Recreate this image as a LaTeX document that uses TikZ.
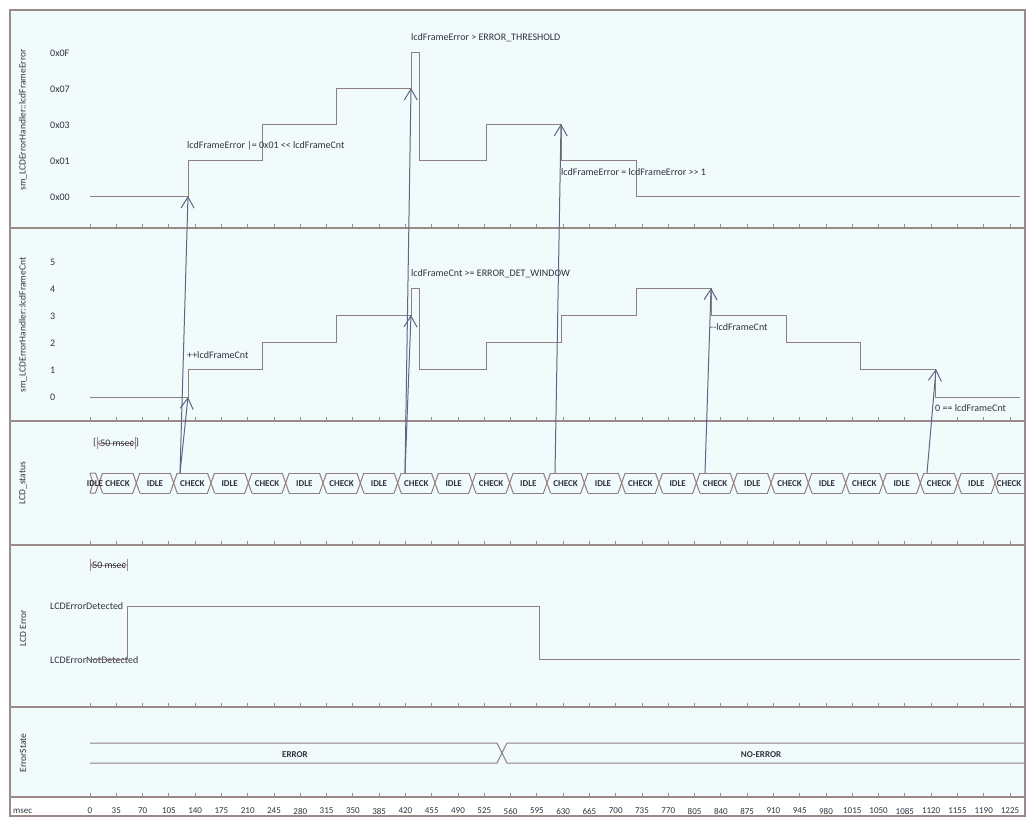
\documentclass[tikz,border=0pt]{standalone}
\usepackage{fontspec}
\setmainfont{Carlito}
\usetikzlibrary{arrows.meta}
\definecolor{paneBg}{HTML}{F2FBFC}
\definecolor{frameCol}{HTML}{9A8A8A}
\definecolor{sigCol}{HTML}{8F7F7F}
\definecolor{evtCol}{HTML}{5E6683}
\definecolor{txtCol}{HTML}{32323F}
% x position of a state boundary in the LCD_status row
\newcommand{\stX}[1]{(99+37.333*(#1))}

\begin{document}
\begin{tikzpicture}[x=1pt,y=-1pt,
  pane/.style={draw=frameCol, line width=2.4pt},
  wave/.style={draw=sigCol, line width=1pt},
  tickmark/.style={draw=frameCol, line width=1pt},
  trig/.style={draw=evtCol, line width=1pt, -{Straight Barb[length=11pt,width=13pt]}},
  durln/.style={draw=frameCol, line width=0.8pt},
  txt/.style={font=\fontsize{10}{11}\selectfont, text=txtCol, inner sep=0pt},
  axisnum/.style={txt, font=\fontsize{9}{10}\selectfont},
  lvl/.style={txt, anchor=west},
  stname/.style={txt, font=\fontsize{9}{10}\selectfont\bfseries},
  lanetitle/.style={txt, font=\fontsize{9.5}{10}\selectfont, rotate=90}]
\useasboundingbox (0,0) rectangle (1036,828);

% frame and lanes
\fill[paneBg] (10,10) rectangle (1025,797);
\fill[white] (10,797) rectangle (1025,816);
\foreach \y in {228,421,545,707,797}
  \draw[pane] (10,\y) -- (1025,\y);
\draw[pane] (10,10) rectangle (1025,816);
\foreach \y in {228,421,545,707,797}
  \foreach \k in {0,...,35}
    \draw[tickmark] ({90+26.2857*\k},{\y-4}) -- ({90+26.2857*\k},\y);

% time axis
\node[axisnum, anchor=west] (msec) at (13,811) {msec};
\foreach \k in {0,...,35}{
  \pgfmathtruncatemacro\ms{35*\k}
  \node[axisnum] (t\k) at ({90+26.2857*\k},811) {\ms};
}

% lane titles
\node[lanetitle] (ttlErr) at (23,120) {sm\_LCDErrorHandler::lcdFrameError};
\node[lanetitle] (ttlCnt) at (23,325) {sm\_LCDErrorHandler::lcdFrameCnt};
\node[lanetitle] (ttlSts) at (23,483) {LCD\_status};
\node[lanetitle] (ttlLcd) at (23,628) {LCD Error};
\node[lanetitle] (ttlEst) at (23,753) {ErrorState};

% lcdFrameError
\node[lvl] (fe0F) at (50,53) {0x0F};
\node[lvl] (fe07) at (50,89) {0x07};
\node[lvl] (fe03) at (50,125) {0x03};
\node[lvl] (fe01) at (50,161) {0x01};
\node[lvl] (fe00) at (50,197) {0x00};
\draw[wave] (90,196) -| (188,160) -| (262,124) -| (336,88) -| (411,52) -| (419,160)
  -| (486,124) -| (561,160) -| (636,196) -- (1020,196);
\node[lvl] (feSet) at (187,146) {lcdFrameError |= 0x01 <\kern0pt< lcdFrameCnt};
\node[lvl] (feThr) at (411,38) {lcdFrameError > ERROR\_THRESHOLD};
\node[lvl] (feShr) at (561,172) {lcdFrameError = lcdFrameError >\kern0pt> 1};

% lcdFrameCnt
\node[lvl] (fc5) at (50,262) {5};
\node[lvl] (fc4) at (50,289) {4};
\node[lvl] (fc3) at (50,316) {3};
\node[lvl] (fc2) at (50,343) {2};
\node[lvl] (fc1) at (50,370) {1};
\node[lvl] (fc0) at (50,397) {0};
\draw[wave] (90,397) -| (188,369) -| (262,342) -| (336,315) -| (411,288) -| (419,369)
  -| (486,342) -| (561,315) -| (636,288) -| (711,315) -| (786,342) -| (860,369)
  -| (935,397) -- (1020,397);
\node[lvl] (fcInc) at (187,355) {++lcdFrameCnt};
\node[lvl] (fcWin) at (411,274) {lcdFrameCnt >= ERROR\_DET\_WINDOW};
\node[lvl] (fcDec) at (710,327) {-\kern0pt-lcdFrameCnt};
\node[lvl] (fcZero) at (935,408) {0 == lcdFrameCnt};

% LCD_status
\draw[wave] (90,473) -- (93,483) -- (90,493) (90,473) -- ({\stX{0}-3.5},473) (90,493) -- ({\stX{0}-3.5},493);
\foreach \k in {0,...,24}
  \draw[wave] ({\stX{\k}-3.5},473) -- ({\stX{\k}+3.5},493) ({\stX{\k}-3.5},493) -- ({\stX{\k}+3.5},473);
\foreach \k in {0,...,23}
  \draw[wave] ({\stX{\k}+3.5},473) -- ({\stX{\k+1}-3.5},473) ({\stX{\k}+3.5},493) -- ({\stX{\k+1}-3.5},493);
\draw[wave] ({\stX{24}+3.5},473) -- (1025,473) ({\stX{24}+3.5},493) -- (1025,493);
\node[stname] (idl) at (95,484) {IDLE};
\foreach \k in {0,2,...,22}
  \node[stname] (chk\k) at ({\stX{\k}+18.667},484) {CHECK};
\foreach \k in {1,3,...,23}
  \node[stname] (idl\k) at ({\stX{\k}+18.667},484) {IDLE};
\node[stname] (chk24) at (1009,484) {CHECK};

% 50 msec
\coordinate (dA) at (97,443);
\coordinate (dB) at (135,443);
\draw[durln] (97,437) -- (97,449) (135,437) -- (135,449);
\draw[durln, {Straight Barb[length=3pt,width=5pt]}-{Straight Barb[length=3pt,width=5pt]}] (dA) -- (dB);
\node[txt] (durSts) at (117,443) {50 msec};
\node[txt] (brL) at (94.8,443) {\{};
\node[txt] (brR) at (137.5,443) {\}};

% LCD Error
\node[lvl] (leDet) at (50,606) {LCDErrorDetected};
\node[lvl] (leNot) at (50,660) {LCDErrorNotDetected};
\draw[wave] (90,659) -| (127,606) -| (539,659) -- (1020,659);
\coordinate (dC) at (90,565);
\coordinate (dD) at (127,565);
\draw[durln] (90,559) -- (90,571) (127,559) -- (127,571);
\draw[durln, {Straight Barb[length=3pt,width=5pt]}-{Straight Barb[length=3pt,width=5pt]}] (dC) -- (dD);
\node[txt] (durLcd) at (109,565) {50 msec};

% ErrorState
\draw[wave] (90,743) -- (497,743) -- (507,763) -- (1025,763);
\draw[wave] (90,763) -- (497,763) -- (507,743) -- (1025,743);
\node[stname] (esErr) at (295,755) {ERROR};
\node[stname] (esOk) at (761,755) {NO-ERROR};

% triggers
\coordinate (c1) at (180,473);
\coordinate (c2) at (405,473);
\coordinate (c3) at (555,473);
\coordinate (c4) at (705,473);
\coordinate (c5) at (927,473);
\coordinate (e1) at (188,196);
\coordinate (e2) at (411,88);
\coordinate (e3) at (561,124);
\coordinate (n1) at (188,397);
\coordinate (n2) at (411,315);
\coordinate (n4) at (711,288);
\coordinate (n5) at (936,369);
\draw[trig] (c1) -- (e1);
\draw[trig] (c1) -- (n1);
\draw[trig] (c2) -- (e2);
\draw[trig] (c2) -- (n2);
\draw[trig] (c3) -- (e3);
\draw[trig] (c4) -- (n4);
\draw[trig] (c5) -- (n5);
\end{tikzpicture}
\end{document}
